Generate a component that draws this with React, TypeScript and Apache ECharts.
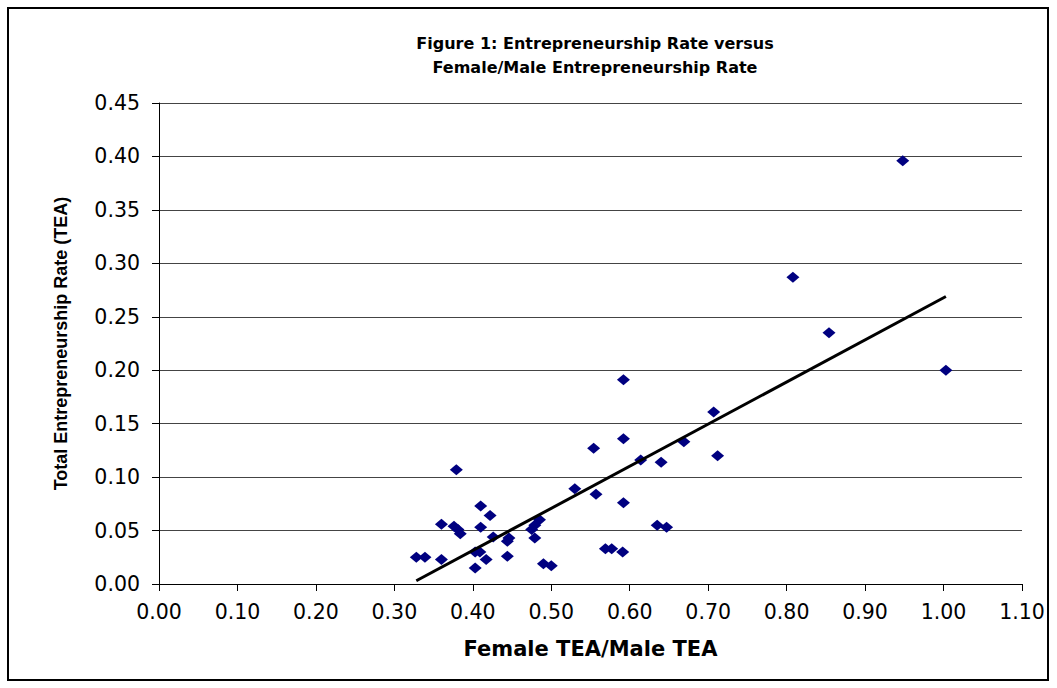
import React, { useEffect, useRef } from "react";
import * as echarts from "echarts";

// Female TEA / Male TEA ratio (x) and Total Entrepreneurship Rate (y)
const femaleMaleRatio = [
  0.948, 0.808, 0.854, 1.003, 0.707, 0.592, 0.712, 0.669, 0.640, 0.614,
  0.592, 0.554, 0.530, 0.557, 0.592, 0.635, 0.647, 0.569, 0.577, 0.591,
  0.485, 0.479, 0.475, 0.479, 0.490, 0.500, 0.379, 0.410, 0.422, 0.360,
  0.376, 0.381, 0.384, 0.410, 0.426, 0.446, 0.444, 0.403, 0.409, 0.417,
  0.444, 0.403, 0.328, 0.339, 0.360,
];
const totalTEA = [
  0.396, 0.287, 0.235, 0.200, 0.161, 0.191, 0.120, 0.133, 0.114, 0.116,
  0.136, 0.127, 0.089, 0.084, 0.076, 0.055, 0.053, 0.033, 0.033, 0.030,
  0.060, 0.055, 0.051, 0.043, 0.019, 0.017, 0.107, 0.073, 0.064, 0.056,
  0.054, 0.051, 0.047, 0.053, 0.044, 0.043, 0.040, 0.030, 0.030, 0.023,
  0.026, 0.015, 0.025, 0.025, 0.023,
];
// Linear trend line end points
const trendX = [0.328, 1.003];
const trendY = [0.003, 0.269];

const titleLines = [
  "Figure 1: Entrepreneurship Rate versus",
  "Female/Male Entrepreneurship Rate",
];
const xAxisName = "Female TEA/Male TEA";
const yAxisName = "Total Entrepreneurship Rate (TEA)";

export default function App() {
  const ref = useRef<HTMLDivElement>(null);
  useEffect(() => {
    if (!ref.current) return;
    const chart = echarts.init(ref.current, undefined, { renderer: "svg" });
    const points = femaleMaleRatio.map((x, i) => [x, totalTEA[i]]);
    const trend = trendX.map((x, i) => [x, trendY[i]]);
    chart.setOption({
      animation: false,
      backgroundColor: "#ffffff",
      title: {
        text: titleLines.join("\n"),
        left: 595,
        top: 31,
        padding: 0,
        textAlign: "center",
        textStyle: {
          fontFamily: "DejaVu Sans, sans-serif",
          fontWeight: "bold",
          fontSize: 16,
          lineHeight: 24,
          color: "#000",
        },
      },
      graphic: [
        {
          type: "rect",
          shape: { x: 8, y: 8, width: 1040, height: 672 },
          style: { fill: "none", stroke: "#000", lineWidth: 2 },
          silent: true,
        },
      ],
      grid: { left: 159, right: 35, top: 103, bottom: 104 },
      xAxis: {
        type: "value",
        min: 0,
        max: 1.1,
        interval: 0.1,
        name: xAxisName,
        nameLocation: "middle",
        nameGap: 54,
        nameTextStyle: {
          fontFamily: "DejaVu Sans, sans-serif",
          fontWeight: "bold",
          fontSize: 21,
          color: "#000",
        },
        axisLine: { show: true, onZero: false, lineStyle: { color: "#000", width: 1 } },
        axisTick: { show: true, inside: false, length: 7, lineStyle: { color: "#000" } },
        axisLabel: {
          margin: 17,
          fontFamily: "DejaVu Sans, sans-serif",
          fontSize: 20.5,
          color: "#000",
          formatter: (v: number) => v.toFixed(2),
        },
        splitLine: { show: false },
      },
      yAxis: {
        type: "value",
        min: 0,
        max: 0.45,
        interval: 0.05,
        name: yAxisName,
        nameLocation: "middle",
        nameGap: 89,
        nameTextStyle: {
          fontFamily: "Liberation Sans, Arial, sans-serif",
          fontWeight: "bold",
          fontSize: 18,
          color: "#000",
        },
        axisLine: { show: true, lineStyle: { color: "#000", width: 1 } },
        axisTick: { show: true, inside: false, length: 7, lineStyle: { color: "#000" } },
        axisLabel: {
          margin: 19,
          fontFamily: "DejaVu Sans, sans-serif",
          fontSize: 20.5,
          color: "#000",
          formatter: (v: number) => v.toFixed(2),
        },
        splitLine: { show: true, lineStyle: { color: "#444", width: 1 } },
      },
      series: [
        {
          type: "scatter",
          data: points,
          symbol: "diamond",
          symbolSize: [13, 11],
          itemStyle: { color: "#000080", opacity: 1 },
          z: 3,
        },
        {
          type: "line",
          data: trend,
          symbol: "none",
          lineStyle: { color: "#000", width: 3 },
          z: 4,
        },
      ],
    });
    return () => chart.dispose();
  }, []);
  return (
    <div
      ref={ref}
      style={{ position: "fixed", left: 0, top: 0, width: 1057, height: 688, background: "#fff" }}
    />
  );
}
